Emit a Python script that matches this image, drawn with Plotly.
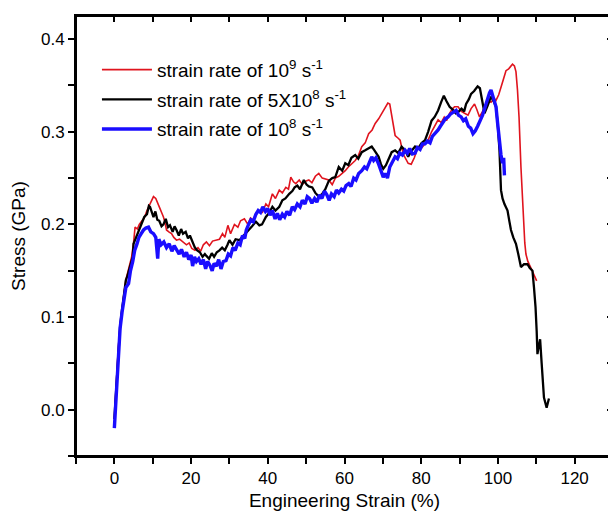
import plotly.graph_objects as go

# ---------------- data ----------------
red_x = [0.0, 0.5, 1.0, 1.5, 2.0, 2.5, 3.0, 3.5, 4.0, 4.5, 5.0, 5.4, 6.0, 6.5, 7.2, 7.8, 8.5, 9.3, 9.8, 10.2,
         10.8, 11.3, 11.9, 12.4, 12.8, 13.3, 13.6, 14.2, 14.9, 15.5, 16.2, 17.0, 17.9, 18.8, 19.5, 20.2, 21.0, 21.8,
         22.5, 23.2, 24.0, 24.8, 25.6, 26.4, 27.4, 28.2, 28.8, 29.6, 30.3, 31.3, 32.2, 32.9, 33.9, 34.8, 35.5, 36.2,
         37.0, 37.8, 38.6, 39.5, 40.2, 41.2, 42.0, 43.0, 43.8, 44.7, 45.4, 46.0, 46.7, 47.3, 48.2, 49.0, 50.0, 50.7,
         51.5, 52.4, 53.3, 54.2, 55.0, 55.9, 56.8, 57.6, 58.5, 59.4, 60.2, 61.0, 61.8, 62.8, 63.6, 64.5, 65.4, 66.3,
         67.2, 68.0, 68.9, 69.7, 70.5, 71.3, 71.8, 72.3, 72.8, 73.2, 74.0, 74.5, 75.3, 76.0, 76.6, 77.4, 78.2, 79.2,
         80.0, 81.0, 81.8, 82.7, 83.5, 84.4, 85.2, 86.0, 86.6, 87.4, 88.2, 88.7, 89.6, 90.5, 91.3, 92.2, 93.0, 93.9,
         94.5, 95.2, 96.0, 96.7, 97.3, 98.2, 99.0, 99.5, 100.2, 100.8, 101.5, 102.1, 102.8, 103.3, 103.8, 104.3,
         104.7, 105.1, 105.5, 106.0, 106.4, 106.7, 107.0, 107.3, 107.8, 108.5, 109.2, 109.7, 110.1]
red_y = [-0.01, 0.03, 0.065, 0.09, 0.11, 0.125, 0.14, 0.148, 0.155, 0.165, 0.18, 0.197, 0.195, 0.2, 0.204, 0.207,
         0.215, 0.222, 0.226, 0.23, 0.228, 0.222, 0.217, 0.212, 0.208, 0.2, 0.194, 0.192, 0.19, 0.186, 0.183, 0.184,
         0.181, 0.178, 0.18, 0.174, 0.172, 0.175, 0.171, 0.178, 0.181, 0.177, 0.182, 0.183, 0.184, 0.19, 0.186,
         0.199, 0.19, 0.2, 0.197, 0.204, 0.206, 0.2, 0.207, 0.205, 0.212, 0.215, 0.213, 0.222, 0.219, 0.233, 0.228,
         0.237, 0.234, 0.24, 0.238, 0.251, 0.246, 0.244, 0.248, 0.243, 0.247, 0.248, 0.245, 0.252, 0.255, 0.25,
         0.249, 0.248, 0.243, 0.25, 0.252, 0.255, 0.258, 0.262, 0.265, 0.269, 0.274, 0.284, 0.288, 0.298, 0.302,
         0.309, 0.314, 0.32, 0.326, 0.331, 0.33, 0.316, 0.305, 0.296, 0.293, 0.291, 0.276, 0.27, 0.266, 0.265,
         0.272, 0.284, 0.282, 0.287, 0.291, 0.3, 0.306, 0.313, 0.31, 0.316, 0.312, 0.32, 0.325, 0.327, 0.327, 0.322,
         0.32, 0.318, 0.325, 0.33, 0.324, 0.316, 0.322, 0.328, 0.334, 0.332, 0.336, 0.334, 0.34, 0.348, 0.358,
         0.366, 0.368, 0.37, 0.373, 0.371, 0.365, 0.345, 0.316, 0.262, 0.225, 0.197, 0.18, 0.168, 0.16, 0.154,
         0.148, 0.143, 0.139]

black_x = [0.0, 0.3, 0.7, 1.0, 1.5, 2.0, 2.5, 3.0, 3.3, 3.8, 4.3, 4.8, 5.0, 5.6, 6.1, 6.7, 7.2, 7.8, 8.5, 9.0,
           9.3, 9.8, 10.2, 10.7, 11.2, 11.7, 12.3, 12.8, 13.4, 14.0, 14.5, 15.2, 15.7, 16.2, 16.8, 17.4, 17.9, 18.6,
           19.2, 19.7, 20.4, 21.0, 21.6, 22.3, 23.0, 23.6, 24.0, 24.7, 25.4, 26.0, 26.7, 27.4, 28.1, 28.8, 29.5,
           30.0, 30.8, 31.6, 32.6, 33.3, 34.2, 35.2, 35.9, 36.9, 37.8, 38.5, 39.5, 40.3, 41.2, 42.0, 43.0, 43.8,
           44.6, 45.6, 46.4, 47.0, 47.7, 48.4, 49.4, 50.1, 50.7, 51.6, 52.4, 53.3, 54.2, 55.0, 55.9, 56.8, 57.6,
           58.5, 59.4, 60.2, 61.0, 61.8, 62.8, 63.6, 64.5, 65.4, 66.3, 67.1, 67.8, 68.9, 69.5, 70.1, 70.8, 71.5,
           72.3, 73.2, 74.0, 74.9, 75.8, 76.6, 77.4, 78.4, 79.2, 80.1, 81.0, 81.8, 82.7, 83.5, 84.4, 85.2, 85.9,
           86.6, 87.4, 88.2, 89.0, 89.6, 90.5, 91.2, 91.7, 92.4, 93.0, 93.8, 94.7, 95.3, 95.8, 96.5, 97.3, 98.2,
           98.9, 99.5, 100.0, 100.4, 100.8, 101.2, 101.7, 102.1, 102.5, 103.0, 103.4, 104.0, 104.7, 105.3, 106.0,
           106.8, 107.7, 108.3, 109.0, 109.4, 109.8, 110.1, 110.3, 110.7, 111.0, 111.4, 112.0, 112.7, 113.3]
black_y = [-0.01, 0.01, 0.045, 0.065, 0.09, 0.108, 0.125, 0.14, 0.143, 0.15, 0.158, 0.165, 0.179, 0.185, 0.192,
           0.197, 0.203, 0.208, 0.211, 0.22, 0.219, 0.212, 0.208, 0.214, 0.205, 0.204, 0.198, 0.2, 0.206, 0.197,
           0.199, 0.192, 0.198, 0.194, 0.188, 0.195, 0.19, 0.192, 0.185, 0.188, 0.18, 0.175, 0.172, 0.17, 0.165,
           0.168, 0.166, 0.163, 0.169, 0.165, 0.17, 0.172, 0.175, 0.172, 0.178, 0.183, 0.178, 0.184, 0.183, 0.186,
           0.19, 0.194, 0.198, 0.203, 0.199, 0.2, 0.208, 0.212, 0.219, 0.215, 0.219, 0.226, 0.228, 0.233, 0.236,
           0.24, 0.242, 0.238, 0.248, 0.243, 0.241, 0.24, 0.234, 0.23, 0.233, 0.238, 0.247, 0.25, 0.251, 0.262,
           0.258, 0.266, 0.264, 0.272, 0.275, 0.271, 0.278, 0.28, 0.282, 0.284, 0.28, 0.273, 0.265, 0.26, 0.264,
           0.27, 0.278, 0.28, 0.277, 0.284, 0.28, 0.273, 0.279, 0.284, 0.282, 0.288, 0.291, 0.3, 0.312, 0.316,
           0.323, 0.332, 0.339, 0.333, 0.327, 0.324, 0.32, 0.321, 0.325, 0.322, 0.33, 0.335, 0.341, 0.344, 0.349,
           0.347, 0.335, 0.32, 0.328, 0.338, 0.333, 0.327, 0.305, 0.28, 0.237, 0.228, 0.222, 0.219, 0.215, 0.203,
           0.194, 0.186, 0.179, 0.168, 0.154, 0.157, 0.157, 0.153, 0.15, 0.132, 0.111, 0.085, 0.06, 0.07, 0.076,
           0.05, 0.013, 0.002, 0.012]

blue_x = [0.0, 0.3, 0.6, 1.0, 1.5, 2.0, 2.5, 3.0, 3.7, 4.2, 4.8, 5.3, 5.9, 6.4, 7.0, 7.6, 8.2, 8.9, 9.5, 10.2,
          10.8, 11.3, 11.6, 12.2, 12.9, 13.6, 14.3, 15.0, 15.6, 16.2, 16.9, 17.5, 18.2, 18.8, 19.4, 20.0, 20.4,
          20.9, 21.4, 22.0, 22.6, 23.2, 23.8, 24.3, 24.9, 25.5, 26.0, 26.6, 27.2, 27.8, 28.4, 29.1, 29.7, 30.3,
          30.9, 31.5, 32.2, 32.8, 33.4, 34.0, 34.4, 35.0, 35.6, 36.2, 36.9, 37.5, 38.1, 38.7, 39.4, 40.0, 40.6,
          41.2, 41.9, 42.5, 43.1, 43.8, 44.4, 45.0, 45.7, 46.4, 47.0, 47.7, 48.4, 49.0, 49.7, 50.3, 50.9, 51.5,
          52.2, 52.8, 53.5, 54.1, 54.8, 55.4, 56.0, 56.6, 57.3, 57.9, 58.5, 59.2, 59.8, 60.4, 61.1, 61.7, 62.4,
          63.0, 63.7, 64.5, 65.2, 65.8, 66.5, 67.1, 67.6, 68.2, 68.9, 69.5, 70.1, 70.6, 71.2, 71.8, 72.5, 73.2,
          73.8, 74.4, 75.1, 75.8, 76.4, 77.0, 77.7, 78.4, 79.0, 79.7, 80.3, 81.0, 81.6, 82.3, 82.9, 83.6, 84.4,
          85.0, 85.6, 86.3, 87.0, 87.6, 88.3, 89.1, 89.7, 90.4, 91.0, 91.6, 92.3, 92.9, 93.5, 94.1, 94.7, 95.4,
          96.0, 96.6, 97.2, 97.8, 98.2, 98.6, 99.0, 99.5, 99.9, 100.4, 100.8, 101.2, 101.5, 101.7]
blue_y = [-0.02, 0.0, 0.03, 0.06, 0.088, 0.105, 0.122, 0.132, 0.136, 0.15, 0.16, 0.172, 0.179, 0.186, 0.19,
          0.194, 0.196, 0.197, 0.192, 0.19, 0.186, 0.163, 0.184, 0.178, 0.181, 0.175, 0.179, 0.171, 0.177, 0.172,
          0.168, 0.173, 0.165, 0.17, 0.162, 0.167, 0.155, 0.165, 0.16, 0.163, 0.157, 0.162, 0.152, 0.16, 0.156,
          0.15, 0.158, 0.155, 0.162, 0.152, 0.16, 0.161, 0.168, 0.166, 0.175, 0.172, 0.18, 0.178, 0.188, 0.185,
          0.194, 0.2, 0.205, 0.203, 0.211, 0.215, 0.213, 0.219, 0.214, 0.217, 0.21, 0.215, 0.206, 0.212, 0.205,
          0.211, 0.208, 0.214, 0.21, 0.219, 0.216, 0.222, 0.219, 0.226, 0.222, 0.23, 0.228, 0.223, 0.228, 0.224,
          0.232, 0.228, 0.236, 0.232, 0.226, 0.233, 0.23, 0.237, 0.234, 0.238, 0.236, 0.242, 0.244, 0.241, 0.25,
          0.248, 0.255, 0.258, 0.262, 0.26, 0.268, 0.273, 0.269, 0.272, 0.265, 0.258, 0.251, 0.255, 0.25, 0.262,
          0.268, 0.273, 0.271, 0.277, 0.275, 0.28, 0.277, 0.282, 0.276, 0.277, 0.283, 0.281, 0.287, 0.287, 0.29,
          0.288, 0.295, 0.298, 0.302, 0.306, 0.31, 0.314, 0.316, 0.319, 0.321, 0.323, 0.318, 0.316, 0.312, 0.314,
          0.306, 0.304, 0.298, 0.301, 0.306, 0.312, 0.318, 0.326, 0.335, 0.342, 0.345, 0.34, 0.333, 0.327, 0.31,
          0.287, 0.275, 0.266, 0.272, 0.253]

series_names = ["strain rate of 10<sup>9</sup> s<sup>-1</sup>",
                "strain rate of 5X10<sup>8</sup> s<sup>-1</sup>",
                "strain rate of 10<sup>8</sup> s<sup>-1</sup>"]

x_range = [-10, 130]
y_range = [-0.05, 0.425]
x_major_step, x_minor_step = 20, 10
y_major_step, y_minor_step = 0.1, 0.05

x_title = "Engineering Strain (%)"
y_title = "Stress (GPa)"

# ---------------- figure ----------------
FONT = "Liberation Sans, Arial, sans-serif"
fig = go.Figure()
fig.add_trace(go.Scatter(x=red_x, y=red_y, mode="lines", name=series_names[0],
                         line=dict(color="#e0141e", width=1.6), legendgroup="a"))
# the mirrored axes (right y2, top x2) have exactly the same ranges as the main ones
fig.add_trace(go.Scatter(x=black_x, y=black_y, mode="lines", name=series_names[1],
                         line=dict(color="#000000", width=2.3), legendgroup="b",
                         xaxis="x", yaxis="y2"))
fig.add_trace(go.Scatter(x=blue_x, y=blue_y, mode="lines", name=series_names[2],
                         line=dict(color="#1a0dff", width=3.4), legendgroup="c",
                         xaxis="x2", yaxis="y"))


def axis_style(rng, major, minor, tick_dir, labels, fmt=None):
    d = dict(range=rng, tick0=0, dtick=major, ticks=tick_dir, ticklen=6, tickwidth=1.6, tickcolor="black",
             minor=dict(tick0=0, dtick=minor, ticks=tick_dir, ticklen=6, tickwidth=1.6, tickcolor="black"),
             showline=True, linecolor="black", linewidth=1.8, showgrid=False, zeroline=False,
             showticklabels=labels, automargin=False)
    if fmt:
        d["tickformat"] = fmt
    return d


# the page body adds an 8px offset, so the figure is 8px smaller than the window
fig.update_layout(
    width=608, height=511,
    margin=dict(l=68, r=3, t=8, b=63),
    paper_bgcolor="white", plot_bgcolor="white",
    font=dict(family=FONT, size=17, color="black"),
    showlegend=True,
    legend=dict(x=0.039, y=0.921, xanchor="left", yanchor="top", bgcolor="rgba(0,0,0,0)",
                font=dict(size=19), tracegroupgap=2, itemwidth=50),
    xaxis=dict(**axis_style(x_range, x_major_step, x_minor_step, "outside", True),
               title=dict(text=x_title, font=dict(size=19), standoff=6)),
    yaxis=dict(**axis_style(y_range, y_major_step, y_minor_step, "outside", True, ".1f"),
               title=dict(text=y_title, font=dict(size=19))),
    xaxis2=dict(**axis_style(x_range, x_major_step, x_minor_step, "inside", False),
                overlaying="x", side="top", anchor="y"),
    yaxis2=dict(**axis_style(y_range, y_major_step, y_minor_step, "inside", False),
                overlaying="y", side="right", anchor="x"),
    # plot frame (box around the plotting area)
    shapes=[dict(type="rect", xref="paper", yref="paper", x0=0, x1=1, y0=0, y1=1,
                 line=dict(color="black", width=2), layer="above")],
)

fig.write_html("out.html")
